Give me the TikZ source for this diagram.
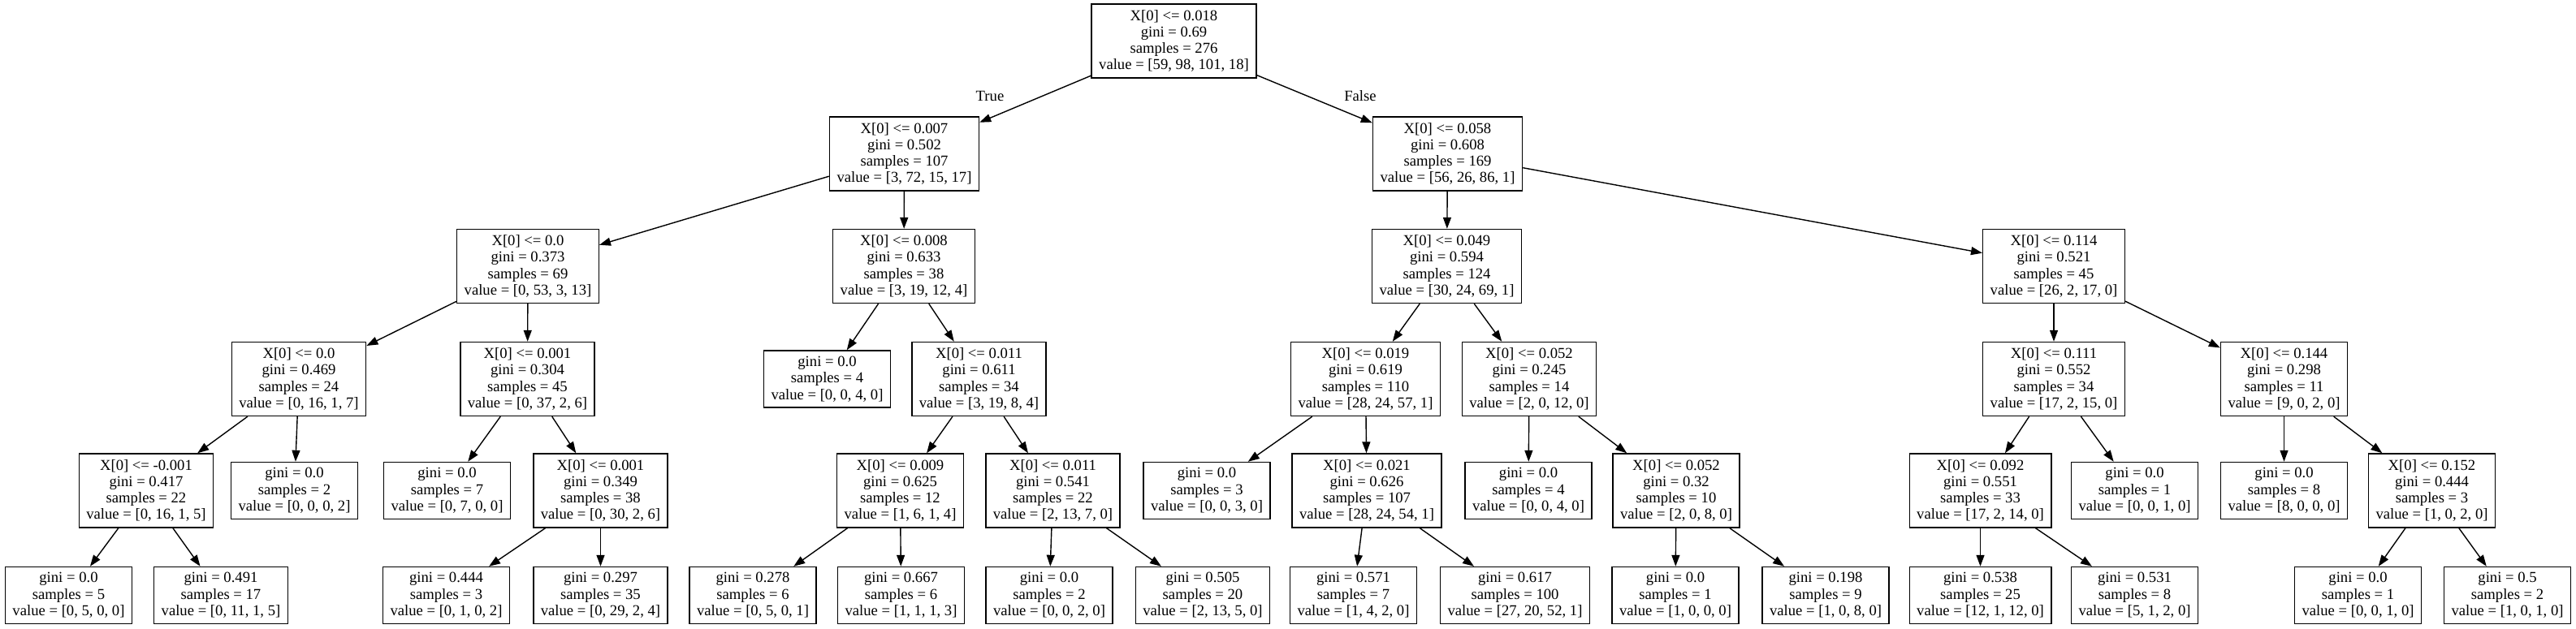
\documentclass[tikz,border=0pt]{standalone}
\usepackage{fontspec}
\setmainfont{Liberation Serif}
\usetikzlibrary{arrows.meta}
\begin{document}
\begin{tikzpicture}
    \def\dx{0.5pt}
    \def\dy{-0.5pt}

    \tikzstyle{split}=[draw=black,line width=0.7pt,align=center,inner xsep=4.5pt,inner ysep=1pt,minimum height=45.5pt,font=\fontsize{9.33}{10.15}\selectfont]
    \tikzstyle{leaf}=[split,minimum height=35pt]
    \tikzstyle{cond}=[font=\fontsize{9.33}{10.15}\selectfont]

    \fill[white] (0,0) rectangle (3172*\dx,775*\dy);

    % depth 0
    \node[split] (n0) at (1445.5*\dx,50.5*\dy) {X[0] <= 0.018\\gini = 0.69\\samples = 276\\value = [59, 98, 101, 18]};
    % depth 1
    \node[split] (n1) at (1113.5*\dx,189.5*\dy) {X[0] <= 0.007\\gini = 0.502\\samples = 107\\value = [3, 72, 15, 17]};
    \node[split] (n2) at (1782.5*\dx,189.5*\dy) {X[0] <= 0.058\\gini = 0.608\\samples = 169\\value = [56, 26, 86, 1]};
    % depth 2
    \node[split] (n3) at (650*\dx,328*\dy) {X[0] <= 0.0\\gini = 0.373\\samples = 69\\value = [0, 53, 3, 13]};
    \node[split] (n4) at (1113*\dx,328*\dy) {X[0] <= 0.008\\gini = 0.633\\samples = 38\\value = [3, 19, 12, 4]};
    \node[split] (n5) at (1781.5*\dx,328*\dy) {X[0] <= 0.049\\gini = 0.594\\samples = 124\\value = [30, 24, 69, 1]};
    \node[split] (n6) at (2529*\dx,328*\dy) {X[0] <= 0.114\\gini = 0.521\\samples = 45\\value = [26, 2, 17, 0]};
    % depth 3
    \node[split] (n7) at (368*\dx,467*\dy) {X[0] <= 0.0\\gini = 0.469\\samples = 24\\value = [0, 16, 1, 7]};
    \node[split] (n8) at (649.5*\dx,467*\dy) {X[0] <= 0.001\\gini = 0.304\\samples = 45\\value = [0, 37, 2, 6]};
    \node[leaf]  (n9) at (1018.5*\dx,467*\dy) {gini = 0.0\\samples = 4\\value = [0, 0, 4, 0]};
    \node[split] (n10) at (1205.5*\dx,467*\dy) {X[0] <= 0.011\\gini = 0.611\\samples = 34\\value = [3, 19, 8, 4]};
    \node[split] (n11) at (1681.5*\dx,467*\dy) {X[0] <= 0.019\\gini = 0.619\\samples = 110\\value = [28, 24, 57, 1]};
    \node[split] (n12) at (1883*\dx,467*\dy) {X[0] <= 0.052\\gini = 0.245\\samples = 14\\value = [2, 0, 12, 0]};
    \node[split] (n13) at (2529*\dx,467*\dy) {X[0] <= 0.111\\gini = 0.552\\samples = 34\\value = [17, 2, 15, 0]};
    \node[split] (n14) at (2812.5*\dx,467*\dy) {X[0] <= 0.144\\gini = 0.298\\samples = 11\\value = [9, 0, 2, 0]};
    % depth 4
    \node[split] (n15) at (180*\dx,604.5*\dy) {X[0] <= -0.001\\gini = 0.417\\samples = 22\\value = [0, 16, 1, 5]};
    \node[leaf]  (n16) at (362.5*\dx,604.5*\dy) {gini = 0.0\\samples = 2\\value = [0, 0, 0, 2]};
    \node[leaf]  (n17) at (550.5*\dx,604.5*\dy) {gini = 0.0\\samples = 7\\value = [0, 7, 0, 0]};
    \node[split] (n18) at (739.5*\dx,604.5*\dy) {X[0] <= 0.001\\gini = 0.349\\samples = 38\\value = [0, 30, 2, 6]};
    \node[split] (n19) at (1108.5*\dx,604.5*\dy) {X[0] <= 0.009\\gini = 0.625\\samples = 12\\value = [1, 6, 1, 4]};
    \node[split] (n20) at (1296.5*\dx,604.5*\dy) {X[0] <= 0.011\\gini = 0.541\\samples = 22\\value = [2, 13, 7, 0]};
    \node[leaf]  (n21) at (1486*\dx,604.5*\dy) {gini = 0.0\\samples = 3\\value = [0, 0, 3, 0]};
    \node[split] (n22) at (1683*\dx,604.5*\dy) {X[0] <= 0.021\\gini = 0.626\\samples = 107\\value = [28, 24, 54, 1]};
    \node[leaf]  (n23) at (1882*\dx,604.5*\dy) {gini = 0.0\\samples = 4\\value = [0, 0, 4, 0]};
    \node[split] (n24) at (2064*\dx,604.5*\dy) {X[0] <= 0.052\\gini = 0.32\\samples = 10\\value = [2, 0, 8, 0]};
    \node[split] (n25) at (2438.5*\dx,604.5*\dy) {X[0] <= 0.092\\gini = 0.551\\samples = 33\\value = [17, 2, 14, 0]};
    \node[leaf]  (n26) at (2628.5*\dx,604.5*\dy) {gini = 0.0\\samples = 1\\value = [0, 0, 1, 0]};
    \node[leaf]  (n27) at (2812.5*\dx,604.5*\dy) {gini = 0.0\\samples = 8\\value = [8, 0, 0, 0]};
    \node[split] (n28) at (2994.5*\dx,604.5*\dy) {X[0] <= 0.152\\gini = 0.444\\samples = 3\\value = [1, 0, 2, 0]};
    % depth 5
    \node[leaf] (n29) at (84.5*\dx,733.5*\dy) {gini = 0.0\\samples = 5\\value = [0, 5, 0, 0]};
    \node[leaf] (n30) at (272*\dx,733.5*\dy) {gini = 0.491\\samples = 17\\value = [0, 11, 1, 5]};
    \node[leaf] (n31) at (549.5*\dx,733.5*\dy) {gini = 0.444\\samples = 3\\value = [0, 1, 0, 2]};
    \node[leaf] (n32) at (739.5*\dx,733.5*\dy) {gini = 0.297\\samples = 35\\value = [0, 29, 2, 4]};
    \node[leaf] (n33) at (927*\dx,733.5*\dy) {gini = 0.278\\samples = 6\\value = [0, 5, 0, 1]};
    \node[leaf] (n34) at (1109.5*\dx,733.5*\dy) {gini = 0.667\\samples = 6\\value = [1, 1, 1, 3]};
    \node[leaf] (n35) at (1292*\dx,733.5*\dy) {gini = 0.0\\samples = 2\\value = [0, 0, 2, 0]};
    \node[leaf] (n36) at (1481*\dx,733.5*\dy) {gini = 0.505\\samples = 20\\value = [2, 13, 5, 0]};
    \node[leaf] (n37) at (1666.5*\dx,733.5*\dy) {gini = 0.571\\samples = 7\\value = [1, 4, 2, 0]};
    \node[leaf] (n38) at (1865.5*\dx,733.5*\dy) {gini = 0.617\\samples = 100\\value = [27, 20, 52, 1]};
    \node[leaf] (n39) at (2063*\dx,733.5*\dy) {gini = 0.0\\samples = 1\\value = [1, 0, 0, 0]};
    \node[leaf] (n40) at (2248*\dx,733.5*\dy) {gini = 0.198\\samples = 9\\value = [1, 0, 8, 0]};
    \node[leaf] (n41) at (2438.5*\dx,733.5*\dy) {gini = 0.538\\samples = 25\\value = [12, 1, 12, 0]};
    \node[leaf] (n42) at (2628.5*\dx,733.5*\dy) {gini = 0.531\\samples = 8\\value = [5, 1, 2, 0]};
    \node[leaf] (n43) at (2903.5*\dx,733.5*\dy) {gini = 0.0\\samples = 1\\value = [0, 0, 1, 0]};
    \node[leaf] (n44) at (3087.5*\dx,733.5*\dy) {gini = 0.5\\samples = 2\\value = [1, 0, 1, 0]};

    \node[cond] (lblTrue) at (1219*\dx,118*\dy) {True};
    \node[cond] (lblFalse) at (1675*\dx,118*\dy) {False};


    \tikzstyle{fwd} = [draw=black, line width=0.7pt, -{Triangle[length=7pt,width=5pt]}]

          \draw [fwd] (n0) -- (n1);
          \draw [fwd] (n0) -- (n2);
          \draw [fwd] (n1) -- (n3);
          \draw [fwd] (n1) -- (n4);
          \draw [fwd] (n2) -- (n5);
          \draw [fwd] (n2) -- (n6);
          \draw [fwd] (n3) -- (n7);
          \draw [fwd] (n3) -- (n8);
          \draw [fwd] (n4) -- (n9);
          \draw [fwd] (n4) -- (n10);
          \draw [fwd] (n5) -- (n11);
          \draw [fwd] (n5) -- (n12);
          \draw [fwd] (n6) -- (n13);
          \draw [fwd] (n6) -- (n14);
          \draw [fwd] (n7) -- (n15);
          \draw [fwd] (n7) -- (n16);
          \draw [fwd] (n8) -- (n17);
          \draw [fwd] (n8) -- (n18);
          \draw [fwd] (n10) -- (n19);
          \draw [fwd] (n10) -- (n20);
          \draw [fwd] (n11) -- (n21);
          \draw [fwd] (n11) -- (n22);
          \draw [fwd] (n12) -- (n23);
          \draw [fwd] (n12) -- (n24);
          \draw [fwd] (n13) -- (n25);
          \draw [fwd] (n13) -- (n26);
          \draw [fwd] (n14) -- (n27);
          \draw [fwd] (n14) -- (n28);
          \draw [fwd] (n15) -- (n29);
          \draw [fwd] (n15) -- (n30);
          \draw [fwd] (n18) -- (n31);
          \draw [fwd] (n18) -- (n32);
          \draw [fwd] (n19) -- (n33);
          \draw [fwd] (n19) -- (n34);
          \draw [fwd] (n20) -- (n35);
          \draw [fwd] (n20) -- (n36);
          \draw [fwd] (n22) -- (n37);
          \draw [fwd] (n22) -- (n38);
          \draw [fwd] (n24) -- (n39);
          \draw [fwd] (n24) -- (n40);
          \draw [fwd] (n25) -- (n41);
          \draw [fwd] (n25) -- (n42);
          \draw [fwd] (n28) -- (n43);
          \draw [fwd] (n28) -- (n44);
\end{tikzpicture}
\end{document}
